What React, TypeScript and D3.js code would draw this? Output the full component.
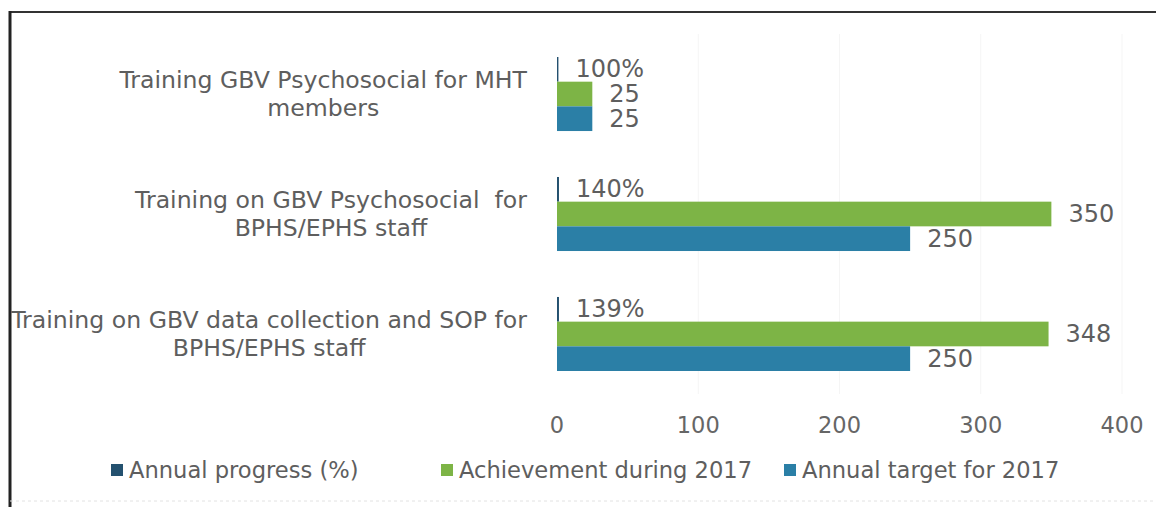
import { useEffect, useRef } from "react";
import * as d3 from "d3";

const categories = [
  "Training GBV Psychosocial for MHT members",
  "Training on GBV Psychosocial  for BPHS/EPHS staff",
  "Training on GBV data collection and SOP for BPHS/EPHS staff",
];
// label lines as wrapped in the source
const categoryLines = [
  ["Training GBV Psychosocial for MHT", "members"],
  ["Training on GBV Psychosocial  for", "BPHS/EPHS staff"],
  ["Training on GBV data collection and SOP for", "BPHS/EPHS staff"],
];
const annualProgress = [1.0, 1.4, 1.39];
const achievement2017 = [25, 350, 348];
const target2017 = [25, 250, 250];
const xTicks = [0, 100, 200, 300, 400];
const seriesNames = ["Annual progress (%)", "Achievement during 2017", "Annual target for 2017"];
const seriesColors = ["#24516f", "#7db446", "#2b7fa6"];

const W = 1156;
const H = 507;
const FONT = "'DejaVu Sans', Verdana, sans-serif";
const TEXT = "#5e5e5e";

export default function App() {
  const svgRef = useRef<SVGSVGElement | null>(null);

  useEffect(() => {
    if (!svgRef.current) return;
    const svg = d3.select(svgRef.current);
    svg.selectAll("*").remove();

    const x = d3.scaleLinear().domain([0, 400]).range([557, 1122]);
    const y = d3
      .scaleBand<string>()
      .domain(categories)
      .range([34, 394])
      .paddingInner(0.383)
      .paddingOuter(0.1917);
    const inner = d3
      .scaleBand<number>()
      .domain([0, 1, 2])
      .range([0, y.bandwidth()]);

    // frame from the scanned page
    svg.append("rect").attr("x", 0).attr("y", 0).attr("width", W).attr("height", H).attr("fill", "#fff");
    svg.append("line").attr("x1", 9).attr("x2", W).attr("y1", 12).attr("y2", 12)
      .attr("stroke", "#333").attr("stroke-width", 2);
    svg.append("line").attr("x1", 10).attr("x2", 10).attr("y1", 11).attr("y2", H)
      .attr("stroke", "#222").attr("stroke-width", 3);
    svg.append("line").attr("x1", 10).attr("x2", W).attr("y1", 501).attr("y2", 501)
      .attr("stroke", "#e2e2e2").attr("stroke-width", 1).attr("stroke-dasharray", "3 3");

    // faint gridlines
    svg.append("g").selectAll("line").data(xTicks.slice(1)).join("line")
      .attr("x1", (d) => x(d)).attr("x2", (d) => x(d))
      .attr("y1", 34).attr("y2", 394)
      .attr("stroke", "#f5f5f5");

    const series = [annualProgress, achievement2017, target2017];
    const fmtPct = d3.format(".0%");

    const groups = svg.append("g").selectAll("g").data(categories).join("g")
      .attr("transform", (d) => `translate(0,${y(d)})`);

    groups.each(function (_, ci) {
      const g = d3.select(this);
      series.forEach((vals, si) => {
        const v = vals[ci];
        const y0 = inner(si)!;
        g.append("rect")
          .attr("x", x(0))
          .attr("y", y0)
          .attr("width", Math.max(1, x(v) - x(0)))
          .attr("height", inner.bandwidth())
          .attr("fill", seriesColors[si]);
        g.append("text")
          .attr("x", x(v) + 17)
          .attr("y", y0 + inner.bandwidth() / 2)
          .attr("dominant-baseline", "central")
          .attr("font-family", FONT)
          .attr("font-size", 24)
          .attr("fill", TEXT)
          .text(si === 0 ? fmtPct(v) : String(v));
      });
    });

    // category labels: lines centred within a block right-aligned at 527
    const labelRight = 527;
    const lineH = 28;
    categories.forEach((c, ci) => {
      const lines = categoryLines[ci];
      const cy = y(c)! + y.bandwidth() / 2;
      const t = svg.append("text")
        .attr("font-family", FONT)
        .attr("font-size", 23.6)
        .attr("fill", TEXT)
        .attr("text-anchor", "middle")
        .style("white-space", "pre");
      const spans = lines.map((ln, li) =>
        t.append("tspan")
          .attr("y", cy + (li - (lines.length - 1) / 2) * lineH)
          .attr("dominant-baseline", "central")
          .text(ln)
      );
      const maxW = d3.max(spans, (s) => (s.node() as SVGTSpanElement).getComputedTextLength()) || 0;
      spans.forEach((s) => s.attr("x", labelRight - maxW / 2));
    });

    // x tick labels
    svg.append("g").selectAll("text").data(xTicks).join("text")
      .attr("x", (d) => x(d))
      .attr("y", 425)
      .attr("text-anchor", "middle")
      .attr("dominant-baseline", "central")
      .attr("font-family", FONT)
      .attr("font-size", 22.5)
      .attr("fill", "#666")
      .text((d) => String(d));

    // legend
    const legendX = [111, 441, 784];
    const legend = svg.append("g").selectAll("g").data(seriesNames).join("g")
      .attr("transform", (_, i) => `translate(${legendX[i]},470)`);
    legend.append("rect").attr("x", 0).attr("y", -6).attr("width", 12).attr("height", 12)
      .attr("fill", (_, i) => seriesColors[i]);
    legend.append("text")
      .attr("x", 18)
      .attr("dominant-baseline", "central")
      .attr("font-family", FONT)
      .attr("font-size", 22.6)
      .attr("fill", TEXT)
      .text((d) => d);
  }, []);

  return (
    <svg
      ref={svgRef}
      width={W}
      height={H}
      style={{ position: "absolute", left: 0, top: 0, display: "block" }}
    />
  );
}
